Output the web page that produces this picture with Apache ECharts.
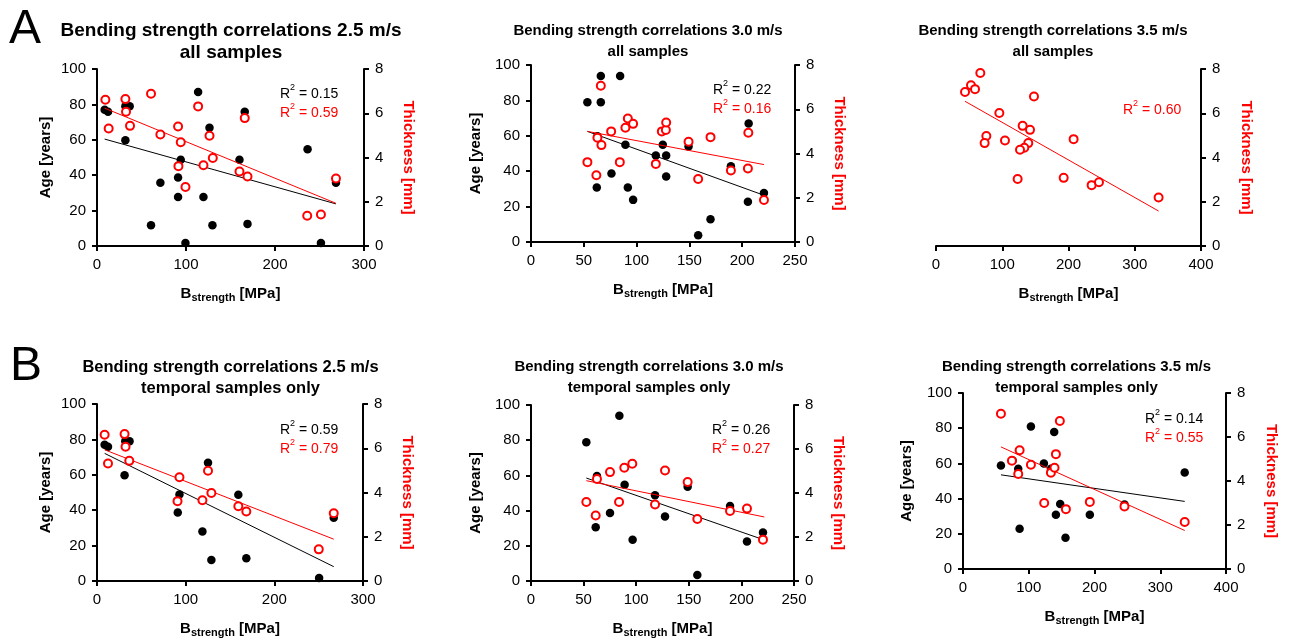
<!DOCTYPE html>
<html><head><meta charset="utf-8">
<script src="https://cdn.jsdelivr.net/npm/echarts@6/dist/echarts.min.js"></script>
<style>html,body{margin:0;padding:0;background:#fff}#c{width:1289px;height:642px}</style>
</head><body><div id="c"></div>
<script>
// ---------- DATA (B_strength [MPa], value) ----------
const ageA1 = [[8.6,77],[12.4,75.8],[31.9,78.9],[36.7,78.9],[31.9,59.8],[113.6,87],[126.4,66.8],[166,75.8],[71.2,35.7],[94.1,48.7],[91.1,38.7],[91.1,27.7],[119.6,27.7],[60.7,11.7],[129.7,11.7],[169.1,12.5],[99.4,1.7],[160.1,48.7],[236.6,54.7],[251.6,1.7],[268.5,35.7]];
const thkA1 = [[9.4,6.61],[13.1,5.31],[31.9,6.64],[32.6,6.07],[37.1,5.43],[60.7,6.88],[71.2,5.04],[91.1,5.40],[94.1,4.69],[91.5,3.61],[99.4,2.67],[113.6,6.31],[126.4,4.98],[130.1,3.98],[119.6,3.65],[166,5.78],[160.1,3.37],[169.1,3.14],[236.2,1.37],[251.6,1.42],[268.5,3.05]];
const fitAgeA1 = [[8.6,60.4],[268.5,23.8]];
const fitThkA1 = [[8.6,6.23],[268.5,1.93]];

const ageA2 = [[53.4,78.9],[66.1,93.8],[66.1,78.9],[84.4,93.8],[62.9,59.8],[89.4,54.9],[62.3,30.8],[76.2,38.7],[91.7,30.8],[96.7,23.8],[118.2,48.9],[124.8,54.9],[128,48.9],[128,37],[149.2,54],[158.3,3.8],[170,12.8],[189.3,42.8],[206.1,67],[205.4,22.8],[220.6,27.7]];
const thkA2 = [[53.4,3.61],[61.9,3.02],[62.9,4.71],[66.1,7.06],[66.7,4.38],[75.9,5.0],[84.1,3.61],[89.4,5.16],[91.7,5.58],[96.7,5.34],[118.2,3.53],[123.9,5.0],[127.7,5.06],[128,5.40],[149.2,4.53],[158.3,2.85],[170,4.74],[189.3,3.23],[205.8,4.94],[205.4,3.32],[220.6,1.90]];
const fitAgeA2 = [[53.4,62.5],[220.6,26.4]];
const fitThkA2 = [[53.4,5.0],[220.6,3.5]];

const thkA3 = [[43.8,6.96],[52.8,7.26],[58.9,7.09],[66.9,7.82],[95.6,6.01],[147.9,6.76],[76,4.97],[73.4,4.65],[104.1,4.77],[130.8,5.43],[141.9,5.25],[139.3,4.65],[133.3,4.44],[126.8,4.35],[123.2,3.03],[207.7,4.83],[192.7,3.08],[234.9,2.75],[246,2.88],[336,2.19]];
const fitThkA3 = [[43.8,6.54],[336,1.58]];

const ageB1 = [[8.6,77],[12.4,75.8],[31.9,78.9],[36.7,78.9],[31.1,59.8],[125.2,66.8],[93,48.9],[91.1,38.7],[159.4,48.7],[118.9,27.9],[129,11.9],[168.4,12.8],[250.5,1.7],[267,35.8]];
const thkB1 = [[8.6,6.61],[12.4,5.31],[31.1,6.64],[32.2,6.07],[36.4,5.43],[93,4.69],[90.8,3.61],[125.2,4.98],[129,3.98],[118.9,3.65],[159.4,3.38],[168.4,3.14],[250.1,1.43],[267,3.06]];
const fitAgeB1 = [[8.6,72.1],[267,8.1]];
const fitThkB1 = [[8.6,5.93],[267,1.89]];

const ageB2 = [[52.6,78.8],[84,93.9],[62.7,59.7],[89,54.7],[61.5,30.5],[75.1,38.6],[96.6,23.5],[117.9,48.7],[127.4,36.6],[148.9,53.6],[158.1,3.4],[189.2,42.6],[205.3,22.5],[220.5,27.5]];
const thkB2 = [[52.6,3.59],[61.5,2.98],[62.7,4.64],[75.1,4.95],[83.7,3.59],[88.7,5.15],[96.3,5.33],[117.9,3.48],[127.4,5.02],[148.9,4.5],[158.1,2.82],[189.2,3.18],[205.3,3.29],[220.5,1.88]];
const fitAgeB2 = [[52.6,58.5],[221.8,23.3]];
const fitThkB2 = [[52.6,4.56],[221.8,2.91]];

const ageB3 = [[57.7,58.8],[75.4,61.6],[84,56.9],[86.1,22.9],[103.3,80.9],[123,59.9],[133.7,56.9],[138.7,77.9],[147.8,36.9],[141.3,30.8],[155.9,17.8],[192.9,30.8],[245.6,36.7],[337.2,54.8]];
const thkB3 = [[57.7,7.06],[74.4,4.92],[86.1,5.40],[84,4.32],[103.3,4.74],[123.5,3.00],[133.7,4.38],[139.2,4.60],[141.3,5.22],[147.3,6.73],[156.5,2.72],[192.9,3.05],[245.6,2.84],[337.2,2.14]];
const fitAgeB3 = [[57.7,53.5],[337.2,38.4]];
const fitThkB3 = [[57.7,5.55],[337.2,1.75]];

const titles = ['Bending strength correlations 2.5 m/s\nall samples','Bending strength correlations 3.0 m/s\nall samples','Bending strength correlations 3.5 m/s\nall samples',
  'Bending strength correlations 2.5 m/s\ntemporal samples only','Bending strength correlations 3.0 m/s\ntemporal samples only','Bending strength correlations 3.5 m/s\ntemporal samples only'];
const r2Age = ['0.15','0.22',null,'0.59','0.26','0.14'];
const r2Thk = ['0.59','0.16','0.60','0.79','0.27','0.55'];
const xMaxes = [300,250,400,300,250,400];
const xIntervals = [100,50,100,100,50,100];
const ageTicks = {min:0,max:100,interval:20};
const thkTicks = {min:0,max:8,interval:2};

// ---------- LAYOUT ----------
const FONT = '"Liberation Sans", Arial, sans-serif';
const RED = '#ff0000';
const layout = [
  {grid:{left:97,top:69,width:267,height:177}, ageGap:44, thkGap:37, title:{x:231,y:42,size:19,lh:22}, r2:{x:280,y1:92.3,y2:110.7}},
  {grid:{left:531,top:65,width:264,height:177}, ageGap:48, thkGap:37, title:{x:648,y:41.5,size:15,lh:20.5}, r2:{x:713,y1:88.3,y2:106.7}},
  {grid:{left:936,top:69,width:265,height:177}, ageGap:48, thkGap:38, title:{x:1053,y:41.5,size:15,lh:20.5}, r2:{x:1123,y1:null,y2:108.3}},
  {grid:{left:97,top:404,width:266,height:177}, ageGap:44, thkGap:37, title:{x:230.5,y:378,size:16.5,lh:20.5}, r2:{x:280,y1:428.3,y2:446.7}},
  {grid:{left:531,top:405,width:263,height:176}, ageGap:48, thkGap:37, title:{x:649,y:377.5,size:15,lh:20.5}, r2:{x:712,y1:428.3,y2:446.7}},
  {grid:{left:963,top:393,width:263,height:176}, ageGap:49, thkGap:38, title:{x:1076.5,y:377.5,size:15,lh:20.5}, r2:{x:1145,y1:417.3,y2:435.7}}
];
const panelData = [
  {age:ageA1, thk:thkA1, fa:fitAgeA1, ft:fitThkA1},
  {age:ageA2, thk:thkA2, fa:fitAgeA2, ft:fitThkA2},
  {age:null,  thk:thkA3, fa:null,     ft:fitThkA3},
  {age:ageB1, thk:thkB1, fa:fitAgeB1, ft:fitThkB1},
  {age:ageB2, thk:thkB2, fa:fitAgeB2, ft:fitThkB2},
  {age:ageB3, thk:thkB3, fa:fitAgeB3, ft:fitThkB3}
];

const axisLine = {show:true, onZero:false, lineStyle:{color:'#000', width:2}};
const axisTick = {show:true, length:5, lineStyle:{color:'#000', width:2}};
const axisLabel = {color:'#000', fontSize:15, fontFamily:FONT, margin:11};

const grids=[], xAxes=[], yAxes=[], series=[], graphics=[];
layout.forEach((L,i)=>{
  const d = panelData[i];
  grids.push(Object.assign({containLabel:false}, L.grid));
  xAxes.push({gridIndex:i, type:'value', min:0, max:xMaxes[i], interval:xIntervals[i],
    name:'{b|B}{s|strength}{b| [MPa]}', nameLocation:'middle', nameGap:40,
    nameTextStyle:{color:'#000', rich:{
      b:{fontSize:15, fontWeight:'bold', fontFamily:FONT, color:'#000', verticalAlign:'top', lineHeight:15},
      s:{fontSize:11, fontWeight:'bold', fontFamily:FONT, color:'#000', verticalAlign:'top', lineHeight:11, padding:[6,0,0,0]}}},
    axisLine, axisTick, axisLabel, splitLine:{show:false}});
  yAxes.push(Object.assign({gridIndex:i, type:'value', position:'left', show: d.age!==null,
    name:'Age [years]', nameLocation:'middle', nameRotate:90, nameGap:L.ageGap,
    nameTextStyle:{color:'#000', fontSize:15, fontWeight:'bold', fontFamily:FONT},
    axisLine, axisTick, axisLabel, splitLine:{show:false}}, ageTicks));
  yAxes.push(Object.assign({gridIndex:i, type:'value', position:'right',
    name:'Thickness [mm]', nameLocation:'middle', nameRotate:-90, nameGap:L.thkGap,
    nameTextStyle:{color:RED, fontSize:15, fontWeight:'bold', fontFamily:FONT},
    axisLine, axisTick, axisLabel, splitLine:{show:false}}, thkTicks));
  if (d.age) {
    series.push({type:'scatter', xAxisIndex:i, yAxisIndex:2*i, data:d.age, symbol:'circle', symbolSize:8.5,
      itemStyle:{color:'#000', opacity:1}, z:2});
    series.push({type:'line', xAxisIndex:i, yAxisIndex:2*i, data:d.fa, symbol:'none', lineStyle:{color:'#000', width:1}, z:3});
  }
  series.push({type:'line', xAxisIndex:i, yAxisIndex:2*i+1, data:d.ft, symbol:'none', lineStyle:{color:RED, width:1}, z:3});
  series.push({type:'scatter', xAxisIndex:i, yAxisIndex:2*i+1, data:d.thk, symbol:'circle', symbolSize:8,
    itemStyle:{color:'#fff', borderColor:RED, borderWidth:2, opacity:1}, z:4});

  graphics.push({type:'text', x:L.title.x, y:L.title.y, z:10, style:{text:titles[i], fill:'#000',
    font:'bold '+L.title.size+'px '+FONT, lineHeight:L.title.lh, align:'center', verticalAlign:'middle'}});
  const mk = (val,color,y)=>({type:'text', x:L.r2.x, y:y, z:10, style:{
    text:'{n|R}{p|2}{n| = '+val+'}', align:'left', verticalAlign:'middle',
    rich:{n:{fontSize:14, fontFamily:FONT, fill:color, lineHeight:18, verticalAlign:'bottom'},
          p:{fontSize:9, fontFamily:FONT, fill:color, lineHeight:9, verticalAlign:'top'}}}});
  if (r2Age[i]!==null) graphics.push(mk(r2Age[i],'#000',L.r2.y1));
  graphics.push(mk(r2Thk[i],RED,L.r2.y2));
});
graphics.push({type:'text', x:9, y:30, style:{text:'A', fill:'#000', font:'48px '+FONT, align:'left', verticalAlign:'middle'}});
graphics.push({type:'text', x:10, y:367, style:{text:'B', fill:'#000', font:'48px '+FONT, align:'left', verticalAlign:'middle'}});

const chart = echarts.init(document.getElementById('c'), null, {renderer:'canvas'});
chart.setOption({animation:false, backgroundColor:'#fff', grid:grids, xAxis:xAxes, yAxis:yAxes, series, graphic:graphics});
</script></body></html>
